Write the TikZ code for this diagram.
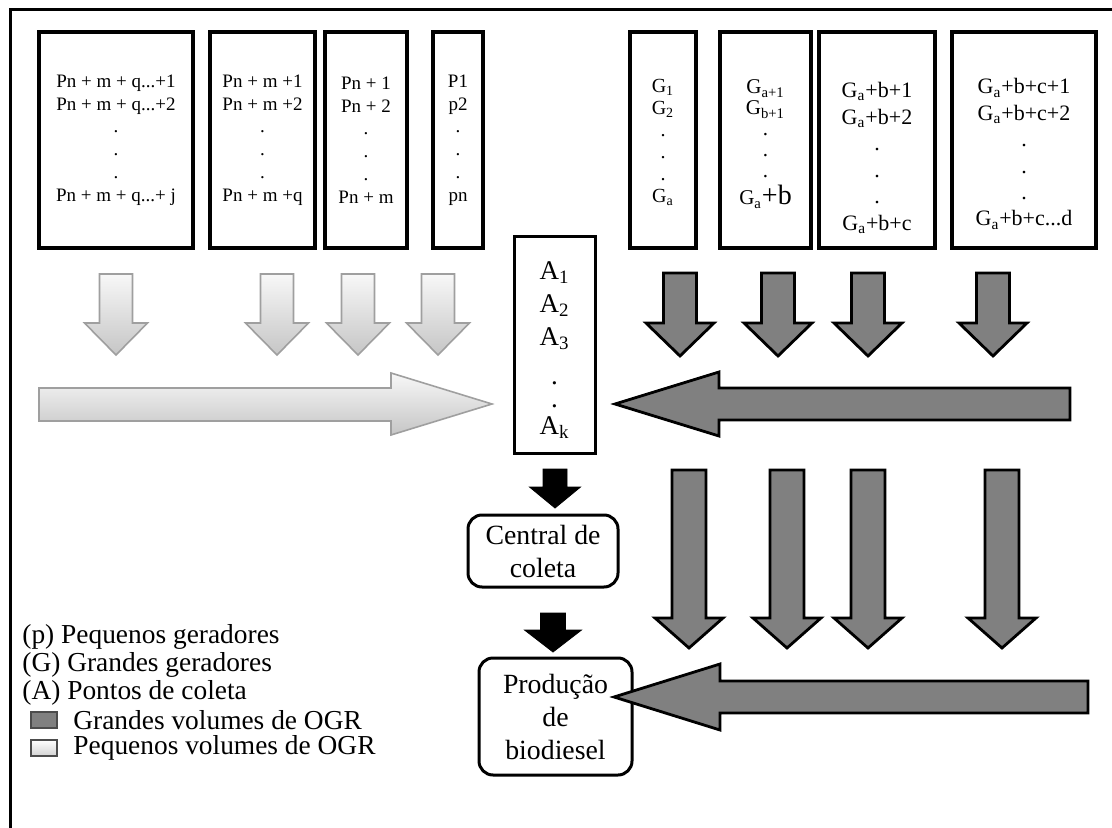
\documentclass[tikz,border=0pt]{standalone}
\usepackage{fontspec}
\setmainfont{Liberation Serif}
\begin{document}
\begin{tikzpicture}[x=0.5pt,y=-0.5pt]
% Styles
\tikzstyle{boite}=[draw,line width=2pt,inner sep=0pt,minimum height=108pt]
\tikzstyle{texte}=[align=center,inner sep=0pt]
\tikzstyle{arrondi}=[draw,line width=1.5pt,rounded corners=7pt,align=center,inner sep=0pt,font=\fontsize{13.9}{16.5}\selectfont]
\tikzstyle{claire}=[draw=gray!75,line width=0.8pt,top color=gray!6,bottom color=gray!45]
\tikzstyle{foncee}=[draw=black,line width=1.4pt,fill=gray]
\tikzstyle{noire}=[fill=black]
\tikzstyle{legende}=[anchor=west,inner sep=0pt,font=\fontsize{13.7}{16}\selectfont]
% Fleches (x centre, y haut, y tete, y pointe, demi-corps, demi-tete)
\def\FlecheBas#1#2#3#4#5#6#7{\draw[#1] (#2-#6,#3) -- (#2+#6,#3) -- (#2+#6,#4) -- (#2+#7,#4) -- (#2,#5) -- (#2-#7,#4) -- (#2-#6,#4) -- cycle;}
\useasboundingbox (0,0) rectangle (1112,828);
% Cadre
\draw[line width=1.5pt] (10,828) -- (10,10) -- (1112,10);
% Pequenos geradores
\node[boite,minimum width=77pt] (Pd) at (116,140) {};
\node[boite,minimum width=52.5pt] (Pc) at (262.5,140) {};
\node[boite,minimum width=41pt] (Pb) at (366,140) {};
\node[boite,minimum width=25pt] (Pa) at (458,140) {};
\node[texte,font=\fontsize{9.5}{11.4}\selectfont] (Pdt) at (Pd.center) {Pn + m + q...+1\\Pn + m + q...+2\\.\\.\\.\\Pn + m + q...+ j};
\node[texte,font=\fontsize{9.5}{11.4}\selectfont] (Pct) at (Pc.center) {Pn + m +1\\Pn + m +2\\.\\.\\.\\Pn + m +q};
\node[texte,font=\fontsize{9.5}{11.4}\selectfont] (Pbt) at (Pb.center) {Pn + 1\\Pn + 2\\.\\.\\.\\Pn + m};
\node[texte,font=\fontsize{9.5}{11.4}\selectfont] (Pat) at (Pa.center) {P1\\p2\\.\\.\\.\\pn};
% Grandes geradores
\node[boite,minimum width=33pt] (Ga) at (663,140) {};
\node[boite,minimum width=45.5pt] (Gb) at (765.5,140) {};
\node[boite,minimum width=58pt] (Gc) at (877,140) {};
\node[boite,minimum width=72pt] (Gd) at (1024,140) {};
\node[texte,font=\fontsize{10}{11}\selectfont] (Gat) at (663,142) {G\textsubscript{1}\\G\textsubscript{2}\\.\\.\\.\\G\textsubscript{a}};
\node[texte,font=\fontsize{10.5}{10.5}\selectfont] (Gbt) at (765.5,144) {G\textsubscript{a+1}\\G\textsubscript{b+1}\\.\\.\\.\\[3pt]G\textsubscript{a}{\fontsize{14}{10.5}\selectfont+b}};
\node[texte,font=\fontsize{11}{13.3}\selectfont] (Gct) at (877,158) {G\textsubscript{a}+b+1\\G\textsubscript{a}+b+2\\.\\.\\.\\G\textsubscript{a}+b+c};
\node[texte,font=\fontsize{11}{13.2}\selectfont] (Gdt) at (1024,154) {G\textsubscript{a}+b+c+1\\G\textsubscript{a}+b+c+2\\.\\.\\.\\G\textsubscript{a}+b+c...d};
% Pontos de coleta
\node[draw,line width=1.5pt,inner sep=0pt,minimum width=40.5pt,minimum height=108pt] (A) at (554.5,345) {};
\node[texte,font=\fontsize{13.5}{16.5}\selectfont] (At) at (554.5,350) {A\textsubscript{1}\\A\textsubscript{2}\\A\textsubscript{3}\\[3pt].\\[-5pt].\\[-3pt]A\textsubscript{k}};
% Central e producao
\node[arrondi,minimum width=75pt,minimum height=36pt] (C) at (543,551) {Central de\\coleta};
\node[arrondi,minimum width=76.5pt,minimum height=58.5pt] (B) at (555.5,716.5) {Produção\\de\\biodiesel};
% Fleches claires
\foreach \x in {116,277,358,438} {\FlecheBas{claire}{\x}{274}{323}{355}{16.5}{31.5}}
\draw[claire] (39,388) -- (391,388) -- (391,373) -- (492,404) -- (391,435) -- (391,421) -- (39,421) -- cycle;
% Fleches foncees
\foreach \x in {680,778,868,993} {\FlecheBas{foncee}{\x}{273}{323}{356}{16.5}{34}}
\draw[foncee] (1070,388) -- (719,388) -- (719,372) -- (615,404) -- (719,436) -- (719,420) -- (1070,420) -- cycle;
\foreach \x in {689,787,868,1002} {\FlecheBas{foncee}{\x}{470}{618}{648}{17}{34}}
\draw[foncee] (1088,681) -- (720,681) -- (720,664) -- (614,697) -- (720,730) -- (720,713) -- (1088,713) -- cycle;
% Fleches noires
\FlecheBas{noire}{555}{469}{487}{508}{12}{25.5}
\FlecheBas{noire}{553}{613}{630}{652}{12.5}{28.5}
% Legende
\node[legende] (Lp) at (22,637) {(p) Pequenos geradores};
\node[legende] (LG) at (22,665) {(G) Grandes geradores};
\node[legende] (LA) at (22,693) {(A) Pontos de coleta};
\node[draw=black!70,fill=gray,line width=0.6pt,minimum width=13pt,minimum height=8pt,inner sep=0pt] (Kg) at (44,720) {};
\node[draw=black!70,top color=white,bottom color=gray!35,line width=0.6pt,minimum width=13pt,minimum height=8pt,inner sep=0pt] (Kp) at (44,748) {};
\node[legende] (LKg) at (73,720) {Grandes volumes de OGR};
\node[legende] (LKp) at (73,748) {Pequenos volumes de OGR};
\end{tikzpicture}
\end{document}
